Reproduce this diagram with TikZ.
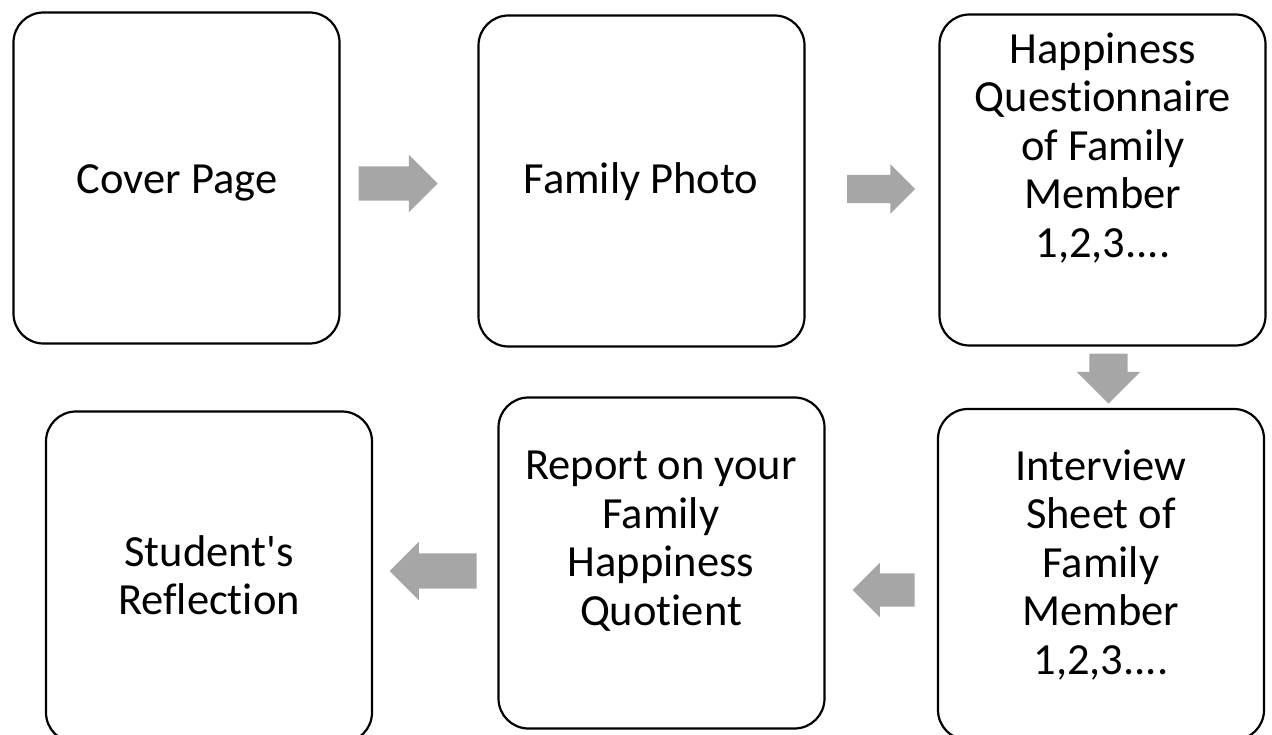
\documentclass[tikz,border=0pt]{standalone}
\usepackage{fontspec}
\setmainfont{Carlito}[Ligatures=NoCommon]
\usetikzlibrary{shapes.arrows}

\definecolor{arrowgray}{RGB}{166,166,166}

\tikzset{
  stage/.style={draw, line width=2.2pt, rounded corners=30pt, inner sep=0pt,
    minimum width=326pt, minimum height=331pt},
  stagetext/.style={align=center, inner sep=0pt, font=\fontsize{44.5}{48.5}\selectfont},
  blockarrow/.style={single arrow, fill=arrowgray, draw=none, inner xsep=0pt}
}

\begin{document}
\begin{tikzpicture}[x=1pt, y=-1pt]
\useasboundingbox (0,0) rectangle (1272,735);

% stages, top row left to right, bottom row right to left
\node[stage] (cover) at (176.5,178) {};
\node[stage] (photo) at (641.5,181) {};
\node[stage] (quest) at (1102.5,180) {};
\node[stage] (intv) at (1101,574.5) {};
\node[stage] (report) at (661.5,563) {};
\node[stage] (reflect) at (209,577) {};

\node[stagetext] (covertxt) at (177,183) {Cover Page};
\node[stagetext] (phototxt) at (641,182) {Family Photo};
\node[stagetext] (questtxt) at (1103,148) {Happiness\\Questionnaire\\of Family\\Member\\1,2,3....};
\node[stagetext] (intvtxt) at (1101,565) {Interview\\Sheet of\\Family\\Member\\1,2,3....};
\node[stagetext] (reporttxt) at (661,541) {Report on your\\Family\\Happiness\\Quotient};
\node[stagetext] (reflecttxt) at (209,575) {Student\textquotesingle s\\Reflection};

% block arrows between the stages
\node[blockarrow, inner ysep=17pt, minimum height=79pt, single arrow head extend=11.5pt] (go1) at (389.5,183.5) {};
\node[blockarrow, inner ysep=14pt, minimum height=68pt, single arrow head extend=10.5pt] (go2) at (874,189) {};
\node[blockarrow, rotate=-90, inner ysep=19pt, minimum height=50pt, single arrow head extend=12.5pt] (go3) at (1108.5,369) {};
\node[blockarrow, rotate=180, inner ysep=16.5pt, minimum height=62pt, single arrow head extend=10.5pt] (go4) at (892,590) {};
\node[blockarrow, rotate=180, inner ysep=17.5pt, minimum height=87pt, single arrow head extend=11.5pt] (go5) at (442,571) {};

\end{tikzpicture}
\end{document}
